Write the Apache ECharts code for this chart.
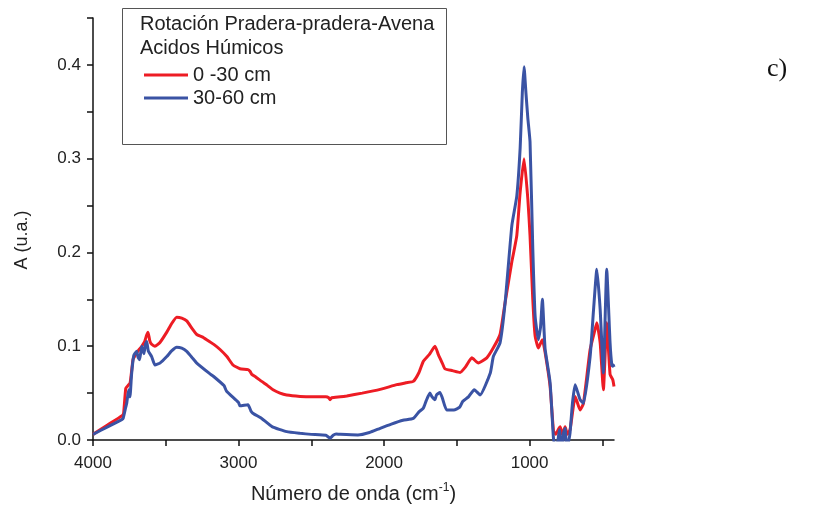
<!DOCTYPE html>
<html>
<head>
<meta charset="utf-8">
<script src="https://cdn.jsdelivr.net/npm/echarts@6/dist/echarts.min.js"></script>
<style>
html,body{margin:0;padding:0;background:#fff;}
#chart{width:817px;height:510px;}
</style>
</head>
<body>
<div id="chart"></div>
<script>
// Wavenumbers (cm-1) and absorbance for "0 -30 cm"
var redWavenumbers = [4000,3900,3800,3790,3775,3760,3745,3730,3725,3710,3700,3680,3665,3645,3631,3622,3610,3597,3574,3540,3493,3460,3425,3390,3356,3320,3287,3250,3219,3170,3127,3080,3038,2990,2935,2920,2909,2880,2841,2800,2763,2715,2669,2577,2500,2400,2380,2371,2360,2300,2256,2150,2027,1913,1850,1799,1760,1730,1690,1650,1627,1600,1581,1530,1478,1440,1397,1352,1294,1250,1203,1168,1122,1088,1065,1038,1012,997,978,962,940,925,912,893,859,836,820,800,790,775,756,740,722,700,687,653,630,584,550,538,515,493,470,447,428,420];
var redValues = [0.006,0.016,0.026,0.028,0.055,0.058,0.061,0.080,0.086,0.090,0.093,0.097,0.100,0.105,0.112,0.115,0.106,0.102,0.100,0.104,0.115,0.124,0.131,0.130,0.127,0.119,0.1125,0.110,0.107,0.102,0.0965,0.089,0.080,0.076,0.075,0.073,0.070,0.067,0.0625,0.058,0.0536,0.050,0.048,0.0465,0.046,0.046,0.045,0.043,0.045,0.046,0.047,0.050,0.054,0.059,0.061,0.0625,0.072,0.084,0.091,0.100,0.091,0.082,0.0758,0.074,0.072,0.078,0.0876,0.082,0.0876,0.098,0.1125,0.147,0.19,0.218,0.264,0.30,0.257,0.218,0.15,0.111,0.098,0.103,0.107,0.093,0.057,0.010,0.006,0.012,0.014,0.006,0.014,0.006,0.011,0.035,0.0465,0.032,0.039,0.0965,0.118,0.125,0.1036,0.0536,0.125,0.070,0.064,0.057];

// Wavenumbers (cm-1) and absorbance for "30-60 cm"
var blueWavenumbers = [4000,3900,3800,3792,3775,3768,3755,3746,3735,3720,3700,3690,3680,3665,3650,3640,3631,3620,3597,3574,3540,3493,3460,3425,3390,3356,3320,3287,3200,3173,3100,3082,3000,2990,2935,2915,2902,2841,2770,2669,2577,2500,2400,2371,2350,2330,2300,2180,2100,2027,1950,1870,1799,1760,1730,1710,1685,1670,1650,1640,1616,1600,1570,1520,1480,1460,1420,1380,1340,1270,1249,1203,1168,1122,1088,1065,1050,1038,1025,1012,997,978,962,940,925,912,900,893,859,836,820,805,795,780,766,756,745,730,722,705,687,653,630,584,560,538,515,493,470,447,435,428,424,420];
var blueValues = [0.006,0.014,0.022,0.0235,0.035,0.0395,0.0535,0.046,0.070,0.090,0.0946,0.088,0.0857,0.100,0.092,0.102,0.105,0.095,0.089,0.080,0.082,0.089,0.095,0.099,0.098,0.0946,0.088,0.082,0.071,0.068,0.058,0.052,0.040,0.0364,0.0375,0.031,0.0286,0.023,0.0143,0.0089,0.0071,0.006,0.005,0.002,0.005,0.0064,0.006,0.0054,0.008,0.0125,0.017,0.021,0.023,0.030,0.034,0.042,0.050,0.046,0.043,0.048,0.0507,0.045,0.032,0.032,0.035,0.041,0.046,0.0536,0.048,0.0715,0.089,0.1036,0.1465,0.2286,0.260,0.311,0.370,0.398,0.370,0.343,0.318,0.204,0.132,0.107,0.120,0.150,0.115,0.0965,0.061,0.002,-0.010,0.000,0.011,-0.010,0.008,0.0125,-0.010,0.000,0.0075,0.040,0.059,0.043,0.039,0.089,0.140,0.182,0.139,0.0715,0.182,0.1036,0.080,0.0786,0.080,0.078];

var seriesNames = ['0 -30 cm', '30-60 cm'];
var legendTitleLines = ['Rotación Pradera-pradera-Avena', 'Acidos Húmicos'];
var xTickValues = [4000,3500,3000,2500,2000,1500,1000,500];
var xLabelValues = [4000,3000,2000,1000];
var yTickValues = [0,0.05,0.1,0.15,0.2,0.25,0.3,0.35,0.4,0.45];
var yLabelValues = [0,0.1,0.2,0.3,0.4];

function pairs(xs, ys){ return xs.map(function(x,i){ return [x, ys[i]]; }); }

var chart = echarts.init(document.getElementById('chart'), null, {renderer:'canvas'});
var FONT = 'Liberation Sans, Arial, sans-serif';
chart.setOption({
  animation: false,
  backgroundColor: '#ffffff',
  grid: {left: 93, right: 203, top: 18, bottom: 70, containLabel: false},
  xAxis: {
    type: 'value', inverse: true, min: 420, max: 4000,
    name: 'Número de onda (cm{sup|-1})',
    nameLocation: 'middle', nameGap: 42,
    nameTextStyle: {fontFamily: FONT, fontSize: 20, color: '#222',
      rich: {sup: {fontFamily: FONT, fontSize: 12, color: '#222', verticalAlign: 'top', padding: [0,0,12,0]}}},
    axisLine: {lineStyle: {color: '#111', width: 1.5}},
    axisTick: {show: true, inside: false, length: 6, lineStyle: {color: '#111', width: 1.5}, customValues: xTickValues},
    axisLabel: {fontFamily: FONT, fontSize: 17, color: '#222', margin: 15, customValues: xLabelValues,
      formatter: function(v){ return String(v); }},
    splitLine: {show: false}
  },
  yAxis: {
    type: 'value', min: 0, max: 0.45,
    axisLine: {show: true, lineStyle: {color: '#111', width: 1.5}},
    axisTick: {show: true, inside: false, length: 6, lineStyle: {color: '#111', width: 1.5}, customValues: yTickValues},
    axisLabel: {fontFamily: FONT, fontSize: 17, color: '#222', margin: 12, customValues: yLabelValues,
      formatter: function(v){ return v.toFixed(1); }},
    splitLine: {show: false}
  },
  legend: {
    data: seriesNames, orient: 'vertical', left: 139, top: 60,
    icon: 'rect', itemWidth: 44, itemHeight: 3, itemGap: 3,
    textStyle: {fontFamily: FONT, fontSize: 20, color: '#222'}
  },
  graphic: [
    {type: 'rect', left: 120, top: 6, shape: {width: 324, height: 136},
      style: {fill: 'none', stroke: '#555', lineWidth: 1}, z: 100},
    {type: 'text', left: 140, top: 14, style: {text: legendTitleLines[0], font: '20px ' + FONT, fill: '#222'}, z: 100},
    {type: 'text', left: 140, top: 38, style: {text: legendTitleLines[1], font: '20px ' + FONT, fill: '#222'}, z: 100},
    {type: 'text', x: 22, y: 240, rotation: Math.PI / 2,
      style: {text: 'A (u.a.)', font: '18px ' + FONT, fill: '#222', align: 'center', verticalAlign: 'middle'}, z: 100},
    {type: 'text', left: 767, top: 56, style: {text: 'c)', font: '26px Liberation Serif, Times New Roman, serif', fill: '#111'}, z: 100}
  ],
  series: [
    {name: seriesNames[0], type: 'line', data: pairs(redWavenumbers, redValues), symbol: 'none',
      smooth: 0.15, clip: true, lineStyle: {color: '#ED1C24', width: 3}, itemStyle: {color: '#ED1C24'}},
    {name: seriesNames[1], type: 'line', data: pairs(blueWavenumbers, blueValues), symbol: 'none',
      smooth: 0.15, clip: true, lineStyle: {color: '#3A53A4', width: 3}, itemStyle: {color: '#3A53A4'}}
  ]
});
</script>
</body>
</html>
